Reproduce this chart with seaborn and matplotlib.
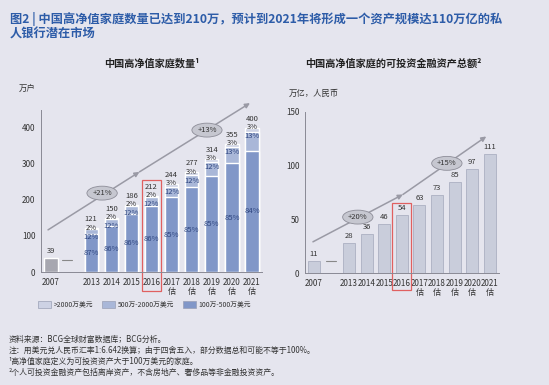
import matplotlib
matplotlib.use('Agg')
from matplotlib import pyplot as plt
from matplotlib.patches import Rectangle, Patch
import seaborn as sns
import pandas as pd

# 横轴类别（' ' 为断轴占位）
years = ['2007', ' ', '2013', '2014', '2015', '2016', '2017', '2018', '2019', '2020', '2021']
tick_labels = ['2007', '', '2013', '2014', '2015', '2016',
               '2017\n估', '2018\n估', '2019\n估', '2020\n估', '2021\n估']

# 左图：高净值家庭数量（万户）
hh_years = ['2013', '2014', '2015', '2016', '2017', '2018', '2019', '2020', '2021']
hh_total = [121, 150, 186, 212, 244, 277, 314, 355, 400]
hh_low = [87, 86, 86, 86, 85, 85, 85, 85, 84]   # 100万-500万美元 %
hh_mid = [12, 12, 12, 12, 12, 12, 12, 13, 13]   # 500万-2000万美元 %
hh_top = [2, 2, 2, 2, 3, 3, 3, 3, 3]            # >2000万美元 %
hh_2007 = 39
cagr_left = ['+21%', '+13%']

# 右图：可投资金融资产总额（万亿人民币）
asset_years = ['2007', '2013', '2014', '2015', '2016', '2017', '2018', '2019', '2020', '2021']
asset_total = [11, 28, 36, 46, 54, 63, 73, 85, 97, 111]
cagr_right = ['+20%', '+15%']

legend_labels = ['>2000万美元', '500万-2000万美元', '100万-500万美元']

BG = '#e5e5ee'
C_TOP, C_MID, C_LOW, C_GRAY = '#cdd2e4', '#a9b7d8', '#8197c8', '#a7a7b0'
C_BAR = '#c9cddb'
TXT = '#333333'

sns.set_style('white')
plt.rcParams['font.family'] = ['Noto Sans CJK SC', 'DejaVu Sans']

fig = plt.figure(figsize=(5.49, 3.85), dpi=100)
fig.patch.set_facecolor(BG)
ax1 = fig.add_axes([0.0747, 0.2935, 0.4026, 0.449])
ax2 = fig.add_axes([0.5556, 0.2909, 0.3526, 0.4468])

# ---- 左图 ----
df = pd.DataFrame({'year': hh_years, 'total': hh_total,
                   'low': hh_low, 'mid': hh_mid, 'top': hh_top})
df['h_mid'] = df.total * (df.low + df.mid) / 100
df['h_low'] = df.total * df.low / 100
kw = dict(x='year', order=years, width=0.66, saturation=1, ax=ax1)
sns.barplot(data=df, y='total', color=C_TOP, **kw)
sns.barplot(data=df, y='h_mid', color=C_MID, **kw)
sns.barplot(data=df, y='h_low', color=C_LOW, **kw)
sns.barplot(data=pd.DataFrame({'year': ['2007'], 'v': [hh_2007]}), y='v', color=C_GRAY, **kw)

for _, r in df.iterrows():
    xi = years.index(r.year)
    ax1.annotate(f'{r.total:.0f}', (xi, r.total), xytext=(0, 6.5), textcoords='offset points',
                 ha='center', va='center', fontsize=5.5, color=TXT)
    ax1.annotate(f'{r.top:.0f}%', (xi, r.total), xytext=(0, 0.5), textcoords='offset points',
                 ha='center', va='center', fontsize=5.5, color=TXT)
    ax1.annotate(f'{r.mid:.0f}%', (xi, r.total), xytext=(0, -6), textcoords='offset points',
                 ha='center', va='center', fontsize=5.5, color='#2f4680')
    ax1.text(xi, r.h_low / 2, f'{r.low:.0f}%', ha='center', va='center',
             fontsize=5.5, color='#2f4680')
ax1.annotate(f'{hh_2007}', (0, hh_2007), xytext=(0, 5), textcoords='offset points',
             ha='center', va='center', fontsize=5.5, color=TXT)
ax1.plot([0.55, 1.05], [hh_2007 - 6, hh_2007 - 6], color='#888888', lw=0.8)

ax1.set_ylim(0, 480)
ax1.set_yticks([0, 100, 200, 300, 400])
ax1.spines['left'].set_bounds(0, 450)

# 增长箭头
def growth(ax, pts, labels, lpos):
    aprops = dict(arrowstyle='-|>', color='#9a9aa5', lw=1.1, mutation_scale=7,
                  shrinkA=0, shrinkB=0)
    ax.annotate('', xy=pts[1], xytext=pts[0], arrowprops=aprops, annotation_clip=False)
    ax.annotate('', xy=pts[2], xytext=pts[1], arrowprops=aprops, annotation_clip=False)
    for lab, p in zip(labels, lpos):
        ax.text(p[0], p[1], lab, ha='center', va='center', fontsize=5.5, color=TXT,
                bbox=dict(boxstyle='ellipse,pad=0.12', fc='#c6c7d0', ec='#8d8d98', lw=0.6),
                clip_on=False)

growth(ax1, [(-0.15, 117), (4.4, 278), (9.9, 469)], cagr_left, [(2.54, 219), (7.76, 394)])
ax1.add_patch(Rectangle((4.55, -52), 0.9, 307, fill=False, ec='#e06060', lw=0.9, clip_on=False))

# ---- 右图 ----
dfa = pd.DataFrame({'year': asset_years, 'v': asset_total})
sns.barplot(data=dfa, x='year', y='v', order=years, width=0.68, color=C_BAR,
            saturation=1, edgecolor='#a3a8bb', linewidth=0.5, ax=ax2)
for y, v in zip(asset_years, asset_total):
    ax2.annotate(f'{v}', (years.index(y), v), xytext=(0, 5), textcoords='offset points',
                 ha='center', va='center', fontsize=5.5, color=TXT)
ax2.plot([0.7, 1.25], [asset_total[0], asset_total[0]], color='#888888', lw=0.8)
ax2.set_ylim(0, 160)
ax2.set_yticks([0, 50, 100, 150])
ax2.spines['left'].set_bounds(0, 150)
growth(ax2, [(-0.05, 29), (5.06, 73), (9.8, 127)], cagr_right, [(2.5, 52), (7.56, 102)])
ax2.add_patch(Rectangle((4.45, -16), 1.1, 81, fill=False, ec='#e06060', lw=0.9, clip_on=False))

for ax in (ax1, ax2):
    ax.set_facecolor('none')
    ax.set_xlim(-0.5, 10.5)
    ax.set_xlabel('')
    ax.set_ylabel('')
    ax.set_xticks(range(len(years)))
    ax.set_xticklabels(tick_labels, fontsize=5.8, color=TXT, linespacing=1.1)
    ax.tick_params(axis='y', labelsize=5.8, colors=TXT, length=2, width=0.6, pad=2)
    ax.tick_params(axis='x', length=2, width=0.6, pad=2, colors=TXT)
    sns.despine(ax=ax)
    for s in ('left', 'bottom'):
        ax.spines[s].set_color('#8a8a95')
        ax.spines[s].set_linewidth(0.7)

# ---- 文字 ----
fig.text(0.018, 0.968, '图2 | 中国高净值家庭数量已达到210万，预计到2021年将形成一个资产规模达110万亿的私\n人银行潜在市场',
         fontsize=8.8, fontweight='bold', color='#2d5ca8', va='top', linespacing=1.1)
fig.text(0.277, 0.834, '中国高净值家庭数量¹', fontsize=7.3, fontweight='bold', color='#222222',
         ha='center', va='center')
fig.text(0.716, 0.834, '中国高净值家庭的可投资金融资产总额²', fontsize=7.3, fontweight='bold',
         color='#222222', ha='center', va='center')
fig.text(0.049, 0.771, '万户', fontsize=6, color=TXT, ha='center', va='center')
fig.text(0.572, 0.758, '万亿，人民币', fontsize=6, color=TXT, ha='center', va='center')

handles = [Patch(fc=C_TOP, ec='#9aa0b5', lw=0.5), Patch(fc=C_MID, ec='#9aa0b5', lw=0.5),
           Patch(fc=C_LOW, ec='#9aa0b5', lw=0.5)]
fig.legend(handles, legend_labels, loc='center left', bbox_to_anchor=(0.058, 0.208), ncol=3,
           frameon=False, fontsize=4.9, handlelength=1.9, handleheight=1.1,
           handletextpad=0.4, columnspacing=1.3, labelcolor=TXT)

notes = ['资料来源：BCG全球财富数据库；BCG分析。',
         '注：用美元兑人民币汇率1:6.642换算；由于四舍五入，部分数据总和可能不等于100%。',
         '¹高净值家庭定义为可投资资产大于100万美元的家庭。',
         '²个人可投资金融资产包括离岸资产，不含房地产、奢侈品等非金融投资资产。']
for i, n in enumerate(notes):
    fig.text(0.015, 1 - (339 + 11.3 * i) / 385, n, fontsize=5.7, color=TXT, va='center')

fig.savefig('out.png', dpi=100, facecolor=BG)
